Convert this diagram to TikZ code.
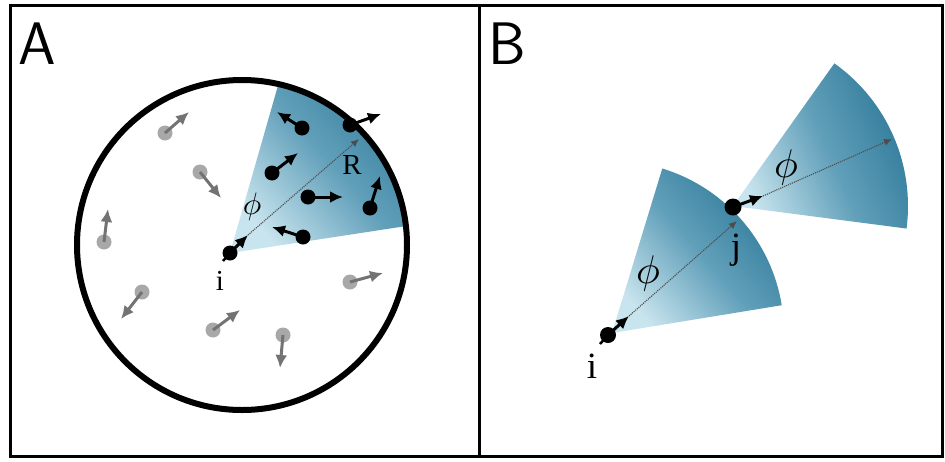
\documentclass[tikz,border=0pt]{standalone}
\usepackage{fontspec}
\newfontfamily\lblfont{Liberation Serif}
\usetikzlibrary{arrows.meta}
\definecolor{cdark}{RGB}{44,120,152}
\definecolor{cmid}{RGB}{98,160,186}
\definecolor{clight}{RGB}{200,228,238}
\begin{document}
\begin{tikzpicture}[x=1pt,y=-1pt,
  frame/.style={line width=3pt},
  blk/.style={circle,fill=black,inner sep=0pt,minimum size=15pt},
  gry/.style={circle,fill=black!45,opacity=.75,inner sep=0pt,minimum size=15pt},
  barrow/.style={line width=3pt,-{Latex[length=13pt,width=12pt]}},
  garrow/.style={line width=3pt,black!55,-{Latex[length=13pt,width=12pt]}},
  tail/.style={line width=2.5pt},
  dotarrow/.style={densely dotted,line width=1.1pt,black!70,-{Latex[length=8pt,width=7pt]}},
  cone/.style={top color=cdark,bottom color=clight,middle color=cmid},
  panel/.style={font=\sffamily\fontsize{60}{60}\selectfont,inner sep=0pt},
  lblA/.style={font=\lblfont\fontsize{29}{31}\selectfont,inner sep=0pt},
  lblB/.style={font=\lblfont\fontsize{37}{39}\selectfont,inner sep=0pt},
  phiA/.style={scale=3.1,inner sep=0pt},
  phiB/.style={scale=4.0,inner sep=0pt}]
\useasboundingbox (0,0) rectangle (945,461);
\fill[white] (0,0) rectangle (945,461);

% ---------- Panel A ----------
\coordinate (cA) at (242,245);
\begin{scope}
  \clip (cA) circle[radius=165];
  \shade[cone,shading angle=-49] (230,253) -- ++(-8.7:195)
     arc[start angle=-8.7,end angle=-74,radius=195] -- cycle;
\end{scope}
\draw[line width=6pt] (cA) circle[radius=165];

% gray particles
\node[gry] (g1) at (165,133) {}; \coordinate (g1e) at (189,112);
\node[gry] (g2) at (200,172) {}; \coordinate (g2e) at (221,198);
\node[gry] (g3) at (104,242) {}; \coordinate (g3e) at (108,209);
\node[gry] (g4) at (142,292) {}; \coordinate (g4e) at (121,319);
\node[gry] (g5) at (213,330) {}; \coordinate (g5e) at (240,310);
\node[gry] (g6) at (283,335) {}; \coordinate (g6e) at (280,368);
\node[gry] (g7) at (350,282) {}; \coordinate (g7e) at (383,273);
\foreach \g in {g1,g2,g3,g4,g5,g6,g7} \draw[garrow] (\g.center) -- (\g e);

% black particles
\node[blk] (p1) at (302,128) {}; \coordinate (p1e) at (277,112);
\node[blk] (p2) at (350,125) {}; \coordinate (p2e) at (381,114);
\node[blk] (p3) at (272,173) {}; \coordinate (p3e) at (298,153);
\node[blk] (p4) at (308,197) {}; \coordinate (p4e) at (343,197);
\node[blk] (p5) at (370,208) {}; \coordinate (p5e) at (380,176);
\node[blk] (p6) at (303,237) {}; \coordinate (p6e) at (272,227);
\foreach \p in {p1,p2,p3,p4,p5,p6} \draw[barrow] (\p.center) -- (\p e);

\node[blk] (iA) at (230,253) {}; \coordinate (iAe) at (248,235);
\coordinate (iAt) at (223,261);
\draw[tail] (iA.center) -- (iAt);
\draw[barrow] (iA.center) -- (iAe);
\coordinate (RA) at (359,139);
\draw[dotarrow] (iAe) -- (RA);

\node[lblA] (lR) at (352,165) {R};
\node[phiA] (phiA) at (252,207) {$\phi$};
\node[lblA] (liA) at (220,281) {i};
\node[panel] (lA) at (37,44) {A};

% ---------- Panel B ----------
\shade[cone,shading angle=-49] (612,333) -- ++(-9.3:172)
   arc[start angle=-9.3,end angle=-73,radius=172] -- cycle;
\shade[cone,shading angle=-66] (733,206) -- ++(7.4:175)
   arc[start angle=7.4,end angle=-54.6,radius=175] -- cycle;

\node[blk,minimum size=16pt] (iB) at (608,335) {}; \coordinate (iBe) at (629,316);
\coordinate (iBt) at (600,344);
\draw[tail] (iB.center) -- (iBt);
\draw[barrow] (iB.center) -- (iBe);
\node[blk,minimum size=17pt] (jB) at (733,207) {}; \coordinate (jBe) at (763,196);
\draw[barrow] (jB.center) -- (jBe);
\coordinate (jBin) at (737,221);
\draw[dotarrow] (iBe) -- (jBin);
\coordinate (fB) at (892,139);
\draw[dotarrow] (jBe) -- (fB);

\node[lblB] (liB) at (592,366) {i};
\node[lblB] (ljB) at (736,250) {j};
\node[phiB] (phiB1) at (648,273) {$\phi$};
\node[phiB] (phiB2) at (786,167) {$\phi$};
\node[panel] (lB) at (507,44) {B};

% frames
\draw[frame] (10,5) rectangle (942,456);
\draw[frame] (479,5) -- (479,456);
\end{tikzpicture}
\end{document}
